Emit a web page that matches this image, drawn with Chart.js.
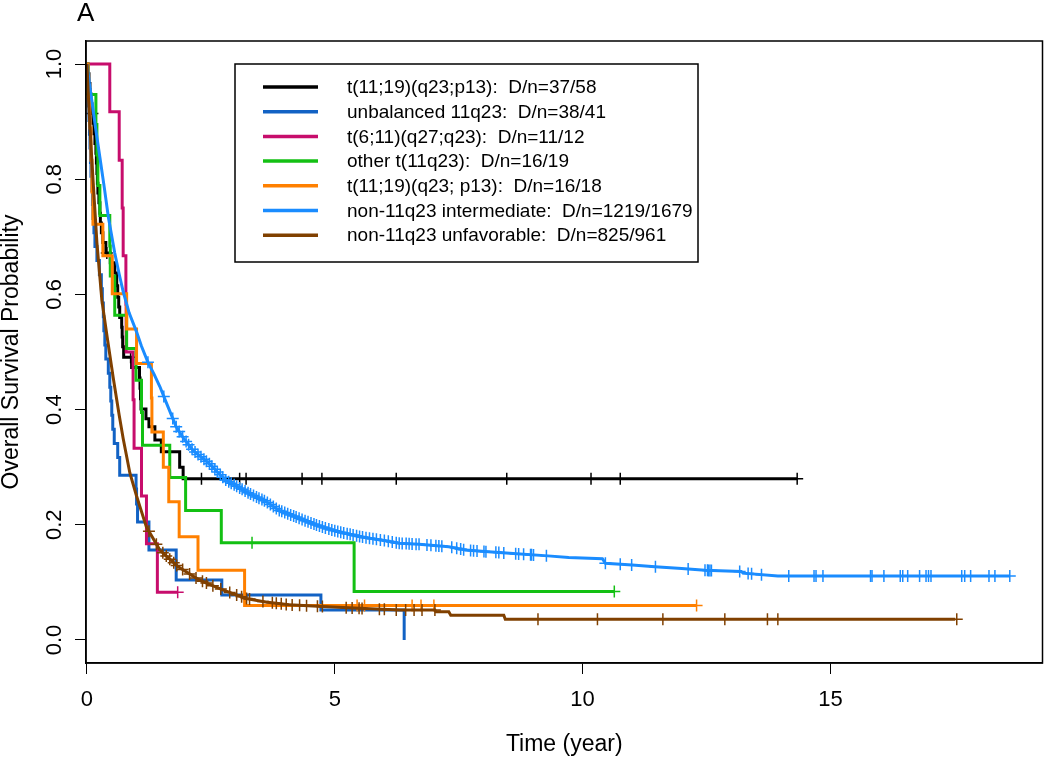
<!DOCTYPE html>
<html>
<head>
<meta charset="utf-8">
<script src="https://cdn.jsdelivr.net/npm/chart.js@4.4.1/dist/chart.umd.min.js"></script>
<style>
  html, body { margin: 0; padding: 0; background: #fff; }
  #wrap { width: 1050px; height: 759px; }
</style>
</head>
<body>
<div id="wrap"><canvas id="km" width="1050" height="759"></canvas></div>
<script>
// tick positions
const xTicks = [0, 5, 10, 15];
const yTicks = [0, 0.2, 0.4, 0.6, 0.8, 1.0];

// t(11;19)(q23;p13)
const blackT = [0, 0.02, 0.04, 0.06, 0.08, 0.10, 0.12, 0.14, 0.16, 0.18, 0.19, 0.20, 0.21, 0.22, 0.24, 0.26, 0.27, 0.29, 0.32, 0.38, 0.47, 0.56, 0.60, 0.62, 0.64, 0.66, 0.70, 0.71, 0.72, 0.74, 0.90, 1.06, 1.07, 1.08, 1.09, 1.19, 1.25, 1.37, 1.50, 1.87, 1.94, 14.33];
const blackS = [1, 0.983, 0.966, 0.948, 0.931, 0.914, 0.897, 0.879, 0.862, 0.845, 0.828, 0.810, 0.793, 0.776, 0.759, 0.741, 0.724, 0.707, 0.690, 0.672, 0.655, 0.637, 0.615, 0.595, 0.578, 0.560, 0.543, 0.526, 0.509, 0.491, 0.473, 0.455, 0.437, 0.419, 0.401, 0.384, 0.370, 0.347, 0.327, 0.300, 0.280, 0.280];
const blackCens = [0.07, 0.11, 0.40, 0.88, 2.31, 3.08, 3.21, 4.34, 4.74, 6.24, 8.47, 10.17, 10.76, 14.33];

// unbalanced 11q23
const unbalT = [0, 0.01, 0.02, 0.03, 0.04, 0.05, 0.06, 0.07, 0.08, 0.10, 0.11, 0.12, 0.14, 0.16, 0.20, 0.25, 0.29, 0.31, 0.33, 0.34, 0.36, 0.38, 0.43, 0.46, 0.48, 0.50, 0.52, 0.55, 0.62, 0.66, 0.99, 1.00, 1.02, 1.25, 1.80, 2.72, 4.72, 6.40];
const unbalS = [1, 0.976, 0.951, 0.927, 0.902, 0.878, 0.854, 0.829, 0.805, 0.780, 0.756, 0.732, 0.707, 0.683, 0.659, 0.634, 0.610, 0.585, 0.561, 0.537, 0.512, 0.488, 0.463, 0.439, 0.415, 0.390, 0.366, 0.341, 0.317, 0.286, 0.262, 0.236, 0.205, 0.156, 0.104, 0.078, 0.052, 0.0];
const unbalCens = [];

// t(6;11)(q27;q23)
const t611T = [0, 0.46, 0.65, 0.71, 0.73, 0.785, 0.79, 0.93, 0.95, 1.10, 1.20, 1.42, 1.83];
const t611S = [1, 0.917, 0.833, 0.75, 0.667, 0.583, 0.5, 0.417, 0.333, 0.25, 0.167, 0.083, 0.083];
const t611Cens = [1.83];

// other t(11q23)
const otherT = [0, 0.02, 0.18, 0.20, 0.22, 0.26, 0.46, 0.47, 0.56, 0.80, 0.99, 1.10, 1.12, 1.67, 1.99, 2.71, 5.39, 10.64];
const otherS = [1, 0.947, 0.895, 0.842, 0.789, 0.737, 0.684, 0.632, 0.564, 0.506, 0.451, 0.395, 0.338, 0.282, 0.225, 0.169, 0.084, 0.084];
const otherCens = [3.33, 10.64];

// t(11;19)(q23; p13) second group
const t1119T = [0, 0.02, 0.06, 0.08, 0.10, 0.12, 0.32, 0.51, 0.80, 1.00, 1.30, 1.31, 1.54, 1.65, 1.86, 2.24, 3.18, 12.30];
const t1119S = [1, 0.944, 0.889, 0.833, 0.778, 0.722, 0.667, 0.601, 0.540, 0.480, 0.420, 0.361, 0.300, 0.240, 0.179, 0.121, 0.060, 0.060];
const t1119Cens = [5.45, 5.60, 6.56, 6.74, 7.00, 12.30];

// non-11q23 intermediate
const interT = [0, 0.05, 0.10, 0.18, 0.26, 0.35, 0.43, 0.56, 0.65, 0.73, 0.85, 1.00, 1.10, 1.23, 1.35, 1.47, 1.60, 1.80, 1.95, 2.14, 2.30, 2.47, 2.65, 2.81, 3.00, 3.20, 3.40, 3.62, 3.88, 4.20, 4.55, 4.90, 5.22, 5.60, 5.90, 6.30, 6.70, 7.30, 7.64, 8.10, 8.60, 9.30, 9.72, 10.40, 10.46, 11.00, 11.46, 12.00, 12.47, 13.20, 13.24, 13.94, 18.62];
const interS = [1, 0.965, 0.935, 0.885, 0.838, 0.785, 0.735, 0.672, 0.635, 0.605, 0.568, 0.535, 0.510, 0.482, 0.462, 0.440, 0.412, 0.370, 0.350, 0.329, 0.318, 0.306, 0.290, 0.277, 0.268, 0.258, 0.249, 0.240, 0.225, 0.214, 0.202, 0.192, 0.185, 0.178, 0.174, 0.168, 0.166, 0.162, 0.156, 0.153, 0.150, 0.146, 0.143, 0.141, 0.133, 0.130, 0.127, 0.124, 0.121, 0.119, 0.116, 0.111, 0.111];
const interCens = [1.23, 1.55, 1.73, 1.80, 1.86, 1.93, 2.00, 2.05, 2.12, 2.18, 2.24, 2.30, 2.36, 2.41, 2.47, 2.52, 2.58, 2.63, 2.69, 2.74, 2.80, 2.86, 2.91, 2.97, 3.02, 3.08, 3.13, 3.19, 3.25, 3.30, 3.36, 3.42, 3.47, 3.53, 3.58, 3.64, 3.70, 3.76, 3.82, 3.88, 3.93, 3.99, 4.05, 4.11, 4.17, 4.22, 4.28, 4.34, 4.40, 4.46, 4.52, 4.58, 4.63, 4.69, 4.75, 4.81, 4.88, 4.94, 5.00, 5.06, 5.12, 5.18, 5.25, 5.31, 5.37, 5.44, 5.50, 5.56, 5.63, 5.70, 5.77, 5.84, 5.92, 6.00, 6.08, 6.16, 6.24, 6.30, 6.36, 6.44, 6.50, 6.56, 6.64, 6.70, 6.86, 6.94, 7.04, 7.10, 7.16, 7.36, 7.46, 7.54, 7.60, 7.74, 7.80, 7.87, 8.01, 8.05, 8.25, 8.31, 8.41, 8.65, 8.71, 8.81, 8.95, 8.97, 9.01, 9.27, 10.46, 10.76, 10.99, 11.47, 12.13, 12.47, 12.52, 12.54, 12.57, 12.60, 13.17, 13.34, 13.41, 13.61, 14.16, 14.67, 14.71, 14.85, 15.81, 15.84, 16.08, 16.41, 16.46, 16.56, 16.80, 16.93, 16.98, 17.03, 17.65, 17.71, 17.83, 18.20, 18.32, 18.62];

// non-11q23 unfavorable
const unfavT = [0, 0.03, 0.06, 0.10, 0.15, 0.20, 0.30, 0.40, 0.53, 0.65, 0.73, 0.865, 1.00, 1.20, 1.47, 1.84, 2.27, 2.74, 3.21, 3.60, 4.08, 4.75, 5.50, 6.30, 7.02, 7.04, 7.30, 7.34, 8.41, 8.44, 17.52];
const unfavS = [1, 0.94, 0.89, 0.83, 0.76, 0.69, 0.59, 0.53, 0.455, 0.39, 0.35, 0.29, 0.25, 0.196, 0.156, 0.127, 0.104, 0.087, 0.072, 0.066, 0.061, 0.058, 0.055, 0.052, 0.052, 0.049, 0.049, 0.043, 0.043, 0.036, 0.036];
const unfavCens = [1.25, 1.40, 1.53, 1.60, 1.67, 1.75, 1.81, 1.93, 2.07, 2.20, 2.33, 2.41, 2.54, 2.70, 2.88, 3.02, 3.12, 3.22, 3.28, 3.55, 3.74, 3.82, 3.92, 4.02, 4.14, 4.29, 4.43, 4.65, 4.75, 5.23, 5.35, 5.49, 5.55, 5.90, 6.00, 6.24, 6.43, 6.60, 6.76, 7.02, 9.10, 10.30, 11.62, 12.87, 13.73, 13.94, 17.55];

const groups = [
  { label: 't(11;19)(q23;p13):  D/n=37/58', color: '#000000', t: blackT, s: blackS, c: blackCens, step: true },
  { label: 'unbalanced 11q23:  D/n=38/41', color: '#1262c4', t: unbalT, s: unbalS, c: unbalCens, step: true },
  { label: 't(6;11)(q27;q23):  D/n=11/12', color: '#c70d6c', t: t611T, s: t611S, c: t611Cens, step: true },
  { label: 'other t(11q23):  D/n=16/19', color: '#13c013', t: otherT, s: otherS, c: otherCens, step: true },
  { label: 't(11;19)(q23; p13):  D/n=16/18', color: '#ff8000', t: t1119T, s: t1119S, c: t1119Cens, step: true },
  { label: 'non-11q23 intermediate:  D/n=1219/1679', color: '#1a8cff', t: interT, s: interS, c: interCens, step: false },
  { label: 'non-11q23 unfavorable:  D/n=825/961', color: '#804000', t: unfavT, s: unfavS, c: unfavCens, step: false }
];

// y of a censor mark on the drawn curve
function survAt(g, x) {
  for (let i = 1; i < g.t.length; i++) {
    if (x < g.t[i]) {
      if (g.step) return g.s[i - 1];
      const f = (x - g.t[i - 1]) / (g.t[i] - g.t[i - 1]);
      return g.s[i - 1] + f * (g.s[i] - g.s[i - 1]);
    }
  }
  return g.s[g.s.length - 1];
}

const datasets = [];
groups.forEach((g, i) => {
  const ord = groups.length - i;
  datasets.push({
    type: 'line',
    label: g.label,
    data: g.t.map((x, k) => ({ x: x, y: g.s[k] })),
    borderColor: g.color,
    borderWidth: 3,
    stepped: g.step ? 'before' : false,
    tension: 0,
    pointRadius: 0,
    fill: false,
    order: ord
  });
  datasets.push({
    type: 'scatter',
    label: g.label + ' censored',
    data: g.c.map(x => ({ x: x, y: survAt(g, x) })),
    borderColor: g.color,
    backgroundColor: g.color,
    pointStyle: 'cross',
    pointRadius: 6,
    pointBorderWidth: 1.5,
    showLine: false,
    order: ord
  });
});

const frame = {
  id: 'frame',
  afterDraw(chart) {
    const ctx = chart.ctx;
    const a = chart.chartArea;
    ctx.save();
    ctx.strokeStyle = '#000';
    ctx.lineWidth = 1.5;
    ctx.strokeRect(a.left, a.top, a.right - a.left, a.bottom - a.top);

    // legend box
    const lx = 235, ly = 64, lw = 463, lh = 198;
    ctx.fillStyle = '#fff';
    ctx.fillRect(lx, ly, lw, lh);
    ctx.strokeRect(lx, ly, lw, lh);
    ctx.font = '19px "Liberation Sans", Arial, sans-serif';
    ctx.textBaseline = 'middle';
    ctx.textAlign = 'left';
    groups.forEach((g, i) => {
      const y = 87 + i * 24.7;
      ctx.strokeStyle = g.color;
      ctx.lineWidth = 3.5;
      ctx.beginPath();
      ctx.moveTo(263, y);
      ctx.lineTo(318, y);
      ctx.stroke();
      ctx.fillStyle = '#000';
      ctx.fillText(g.label, 347, y + 1);
    });

    // panel letter
    ctx.font = '26px "Liberation Sans", Arial, sans-serif';
    ctx.fillStyle = '#000';
    ctx.fillText('A', 77, 14);
    ctx.restore();
  }
};

const tickFont = { family: '"Liberation Sans", Arial, sans-serif', size: 22 };
const titleFont = { family: '"Liberation Sans", Arial, sans-serif', size: 23 };

new Chart(document.getElementById('km'), {
  type: 'line',
  data: { datasets: datasets },
  options: {
    responsive: false,
    animation: false,
    layout: { padding: { top: 41, right: 5, left: 0, bottom: 0 } },
    plugins: { legend: { display: false }, tooltip: { enabled: false } },
    scales: {
      x: {
        type: 'linear',
        min: -0.02,
        max: 19.28,
        afterBuildTicks: s => { s.ticks = xTicks.map(v => ({ value: v })); },
        afterFit: s => { s.height = 96; },
        ticks: { font: tickFont, color: '#000', padding: 13, maxRotation: 0, autoSkip: false },
        grid: { drawOnChartArea: false, drawTicks: true, tickLength: 11, color: '#000', lineWidth: 1 },
        border: { display: true, color: '#000', width: 1.5 },
        title: { display: true, text: 'Time (year)', font: titleFont, color: '#000', padding: { top: 0, bottom: 1 } }
      },
      y: {
        type: 'linear',
        min: -0.04,
        max: 1.04,
        afterBuildTicks: s => { s.ticks = yTicks.map(v => ({ value: v })); },
        afterFit: s => { s.width = 86; },
        ticks: {
          font: tickFont, color: '#000', padding: 5,
          minRotation: 90, maxRotation: 90, crossAlign: 'center',
          callback: v => v.toFixed(1)
        },
        grid: { drawOnChartArea: false, drawTicks: true, tickLength: 11, color: '#000', lineWidth: 1 },
        border: { display: true, color: '#000', width: 1.5 },
        title: { display: true, text: 'Overall Survival Probability', font: titleFont, color: '#000', padding: { top: -2, bottom: 0 } }
      }
    }
  },
  plugins: [frame]
});
</script>
</body>
</html>
